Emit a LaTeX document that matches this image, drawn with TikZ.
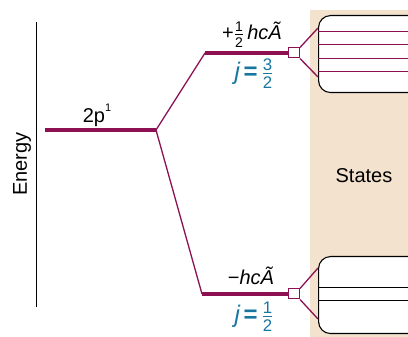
\documentclass[tikz,border=0pt]{standalone}
\usepackage{amsmath}
\usepackage{fontspec}
\setmainfont{Liberation Sans}
\definecolor{lvl}{RGB}{140,16,82}
\definecolor{jblue}{RGB}{22,118,160}
\definecolor{beige}{RGB}{242,226,206}
\newcommand{\sfr}[2]{$\frac{\text{#1}}{\text{#2}}$}
\begin{document}
\begin{tikzpicture}[x=1pt,y=-1pt,
  txt/.style={font=\fontsize{20}{24}\selectfont, inner sep=0pt},
  jtxt/.style={font=\fontsize{24}{28}\selectfont, inner sep=0pt, text=jblue},
  levelline/.style={draw=lvl, line width=3.2pt},
  thinline/.style={draw=lvl, line width=1.3pt},
  smallbox/.style={draw=lvl, fill=white, line width=1pt, minimum width=11pt, minimum height=10pt, inner sep=0pt},
  statebox/.style={draw=black, fill=white, line width=1.1pt, rounded corners=12pt, anchor=north west, minimum width=120pt, minimum height=77pt, inner sep=0pt},
  stateline/.style={line width=1pt}
]
\useasboundingbox (0,0) rectangle (408,337);
\clip (0,0) rectangle (408,337);
\fill[beige] (310,10) rectangle (410,340);
% energy axis
\coordinate (eTop) at (36,22);
\coordinate (eBot) at (36,307);
\draw[line width=0.9pt] (eTop) -- (eBot);
\node[txt, rotate=90] (energy) at (22,164) {Energy};
% levels
\coordinate (pStart) at (45,130);
\coordinate (split) at (156,130);
\coordinate (uA) at (205,53);
\coordinate (lA) at (202,294);
\node[smallbox] (ubox) at (294,53) {};
\node[smallbox] (lbox) at (294,294) {};
\draw[thinline] (split) -- (uA);
\draw[thinline] (split) -- (lA);
\draw[levelline] (pStart) -- (split);
\draw[levelline] (uA) -- (ubox.west);
\draw[levelline] (lA) -- (lbox.west);
\node[txt, anchor=base] (p2) at (97,123) {2p\raisebox{0.55em}{\fontsize{11}{12}\selectfont 1}};
% upper states
\node[statebox] (ust) at (318,15) {};
\coordinate (uf1) at (318,28);
\coordinate (uf2) at (318,77);
\draw[thinline] (ubox.north east) -- (uf1);
\draw[thinline] (ubox.south east) -- (uf2);
\foreach \y in {32,45,59,72} \draw[stateline, lvl] (318,\y) -- (410,\y);
% lower states
\node[statebox] (lst) at (318,256) {};
\coordinate (lf1) at (318,268);
\coordinate (lf2) at (318,319);
\draw[thinline] (lbox.north east) -- (lf1);
\draw[thinline] (lbox.south east) -- (lf2);
\foreach \y in {288,301} \draw[stateline, black] (318,\y) -- (410,\y);
\node[txt, anchor=base] (states) at (364,183) {States};
% labels
\node[txt, anchor=base] (uE) at (252,40) {+\sfr{1}{2}\,\textit{hc\~A}};
\node[jtxt, anchor=base] (uJ) at (254,80) {\textit{j}\kern3pt\textbf{=}\kern4pt\sfr{3}{2}};
\node[txt, anchor=base] (lE) at (251,285) {−\textit{hc\~A}};
\node[jtxt, anchor=base] (lJ) at (254,323) {\textit{j}\kern3pt\textbf{=}\kern4pt\sfr{1}{2}};
\end{tikzpicture}
\end{document}
